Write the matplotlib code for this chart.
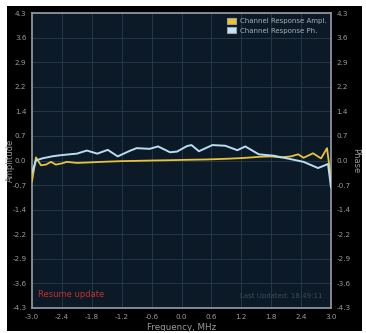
import matplotlib
matplotlib.use("Agg")
import matplotlib.pyplot as plt
from matplotlib.patches import Rectangle, Patch

# Frequency axis samples (MHz) and measured responses
freq_ampl = [-3.0, -2.92, -2.82, -2.72, -2.62, -2.52, -2.39, -2.3, -2.1, -1.91,
             -1.6, -1.24, -0.9, -0.58, -0.2, 0.11, 0.5, 0.9, 1.2, 1.6,
             1.8, 2.0, 2.2, 2.34, 2.45, 2.64, 2.8, 2.92, 3.0]
ampl = [-0.6, 0.09, -0.14, -0.12, -0.04, -0.12, -0.08, -0.04, -0.07, -0.06,
        -0.04, -0.02, -0.01, 0.0, 0.01, 0.02, 0.03, 0.05, 0.07, 0.11,
        0.12, 0.09, 0.12, 0.18, 0.08, 0.21, 0.06, 0.36, -0.54]

freq_phase = [-3.0, -2.92, -2.8, -2.6, -2.45, -2.25, -2.1, -1.9, -1.69, -1.48,
              -1.28, -1.04, -0.9, -0.64, -0.47, -0.23, -0.09, 0.11, 0.2, 0.35,
              0.62, 0.88, 1.12, 1.28, 1.55, 1.85, 2.19, 2.45, 2.74, 2.86,
              2.94, 3.0]
phase = [-0.35, 0.0, 0.06, 0.12, 0.15, 0.18, 0.2, 0.29, 0.2, 0.31,
         0.12, 0.28, 0.36, 0.34, 0.41, 0.24, 0.26, 0.42, 0.45, 0.27,
         0.45, 0.43, 0.3, 0.41, 0.18, 0.14, 0.04, -0.04, -0.22, -0.15,
         -0.1, -0.78]

x_ticks = [-3.0, -2.4, -1.8, -1.2, -0.6, 0.0, 0.6, 1.2, 1.8, 2.4, 3.0]
x_tick_labels = ["-3.0", "-2.4", "-1.8", "-1.2", "-0.6", "0.0", "0.6", "1.2",
                 "1.8", "2.4", "3.0"]
y_tick_labels = ["-4.3", "-3.6", "-2.9", "-2.2", "-1.4", "-0.7", "0.0",
                 "0.7", "1.4", "2.2", "2.9", "3.6", "4.3"]
y_lim = 4.3

W, H = 366, 333
fig = plt.figure(figsize=(W / 100, H / 100), dpi=100, facecolor="white")

# dark panel behind the chart
fig.patches.append(Rectangle((7 / W, 1 - 331 / H), (362 - 7) / W, (331 - 6) / H,
                             transform=fig.transFigure, facecolor="black",
                             edgecolor="none", zorder=-10))

left, right, top, bottom = 32, 331, 13, 308
ax = fig.add_axes([left / W, 1 - bottom / H, (right - left) / W, (bottom - top) / H])
ax.set_facecolor("#0b1a26")

n = len(y_tick_labels)
y_ticks = [-y_lim + 2 * y_lim * i / (n - 1) for i in range(n)]

ax.set_xlim(-3.0, 3.0)
ax.set_ylim(-y_lim, y_lim)
ax.set_xticks(x_ticks)
ax.set_xticklabels(x_tick_labels)
ax.set_yticks(y_ticks)
ax.set_yticklabels(y_tick_labels)
ax.grid(True, color="#263c4e", linewidth=0.6)
ax.set_axisbelow(True)

label_color = "#9a9a9a"
ax.tick_params(axis="both", length=0, labelsize=5.2, colors=label_color, pad=4)
for s in ax.spines.values():
    s.set_color("#8c949b")
    s.set_linewidth(1.3)

ax.plot(freq_ampl, ampl, color="#e8c23a", linewidth=1.3, zorder=3)
ax.plot(freq_phase, phase, color="#b9dcf3", linewidth=1.4, zorder=3)

ax2 = ax.twinx()
ax2.set_ylim(-y_lim, y_lim)
ax2.set_yticks(y_ticks)
ax2.set_yticklabels(y_tick_labels)
ax2.tick_params(axis="y", length=0, labelsize=5.2, colors=label_color, pad=4)
for s in ax2.spines.values():
    s.set_visible(False)

ax.set_xlabel("Frequency, MHz", fontsize=6.3, color=label_color)
ax.xaxis.set_label_coords(0.5, -(327 - bottom) / (bottom - top), transform=ax.transAxes)
ax.set_ylabel("Amplitude", fontsize=6.0, color=label_color)
ax.yaxis.set_label_coords(-(left - 10) / (right - left), 0.5, transform=ax.transAxes)
ax2.set_ylabel("Phase", fontsize=6.0, color=label_color, rotation=270)
ax2.yaxis.set_label_coords(1 + (356 - right) / (right - left), 0.5, transform=ax.transAxes)
ax.xaxis.label.set_va("center")
ax.yaxis.label.set_va("center")
ax2.yaxis.label.set_va("center")

handles = [Patch(facecolor="#f2c12e", edgecolor="#9aa0a6", linewidth=0.8,
                 label="Channel Response Ampl."),
           Patch(facecolor="#c6e4f7", edgecolor="#9aa0a6", linewidth=0.8,
                 label="Channel Response Ph.")]
leg = ax.legend(handles=handles, loc="upper right", frameon=False, fontsize=5.0,
                handlelength=1.3, handleheight=1.0, handletextpad=0.5,
                labelspacing=0.4, borderaxespad=0.3)
for t in leg.get_texts():
    t.set_color("#a8b0b8")

ax.text(0.02, 0.03, "Resume update", transform=ax.transAxes, fontsize=6.0,
        color="#c4302b", ha="left", va="bottom")
ax.text(0.97, 0.03, "Last Updated: 18:49:11", transform=ax.transAxes, fontsize=5.0,
        color="#3a4b58", ha="right", va="bottom")

fig.savefig("out.png", dpi=100, facecolor="white")
